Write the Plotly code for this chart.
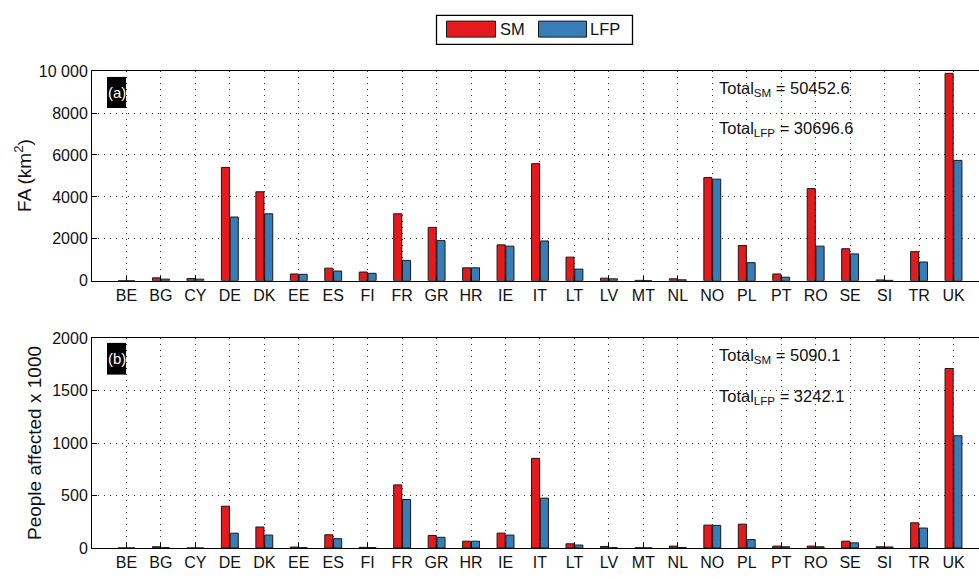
import plotly.graph_objects as go

countries = ["BE", "BG", "CY", "DE", "DK", "EE", "ES", "FI", "FR", "GR", "HR", "IE", "IT",
             "LT", "LV", "MT", "NL", "NO", "PL", "PT", "RO", "SE", "SI", "TR", "UK"]
fa_sm = [0, 139, 108, 5400, 4244, 324, 602, 417, 3194, 2546, 617, 1713, 5586,
         1127, 123, 20, 93, 4923, 1682, 324, 4398, 1528, 40, 1389, 9892]
fa_lfp = [0, 77, 77, 3040, 3194, 309, 463, 355, 972, 1914, 617, 1651, 1898,
          556, 93, 10, 46, 4846, 864, 170, 1651, 1281, 20, 895, 5741]
pop_sm = [0, 12, 0, 398, 200, 9, 126, 6, 601, 120, 65, 142, 854,
          40, 15, 2, 18, 218, 227, 18, 18, 65, 12, 240, 1710]
pop_lfp = [0, 3, 0, 141, 123, 3, 89, 4, 462, 102, 65, 123, 475,
           28, 3, 1, 5, 215, 80, 12, 12, 49, 10, 190, 1069]
fa_ticks = [0, 2000, 4000, 6000, 8000, 10000]
fa_ticktext = ["0", "2000", "4000", "6000", "8000", "10 000"]
pop_ticks = [0, 500, 1000, 1500, 2000]
totals_a = ("Total<sub>SM</sub> = 50452.6", "Total<sub>LFP</sub> = 30696.6")
totals_b = ("Total<sub>SM</sub> = 5090.1", "Total<sub>LFP</sub> = 3242.1")

W, H = 979, 580
RED = "#E41A1C"
BLUE = "#377EB8"
EDGE = "#1a1a1a"
FONT = "Liberation Sans, Arial, Helvetica, sans-serif"
TXT = "#111111"
xi = list(range(len(countries)))


def px(x):
    return x / W


def py(y):
    return 1 - y / H


fig = go.Figure()
for ys, col, xa, ya in [(fa_sm, RED, "x", "y"), (fa_lfp, BLUE, "x", "y"),
                        (pop_sm, RED, "x2", "y2"), (pop_lfp, BLUE, "x2", "y2")]:
    fig.add_trace(go.Bar(x=xi, y=ys, marker=dict(color=col, line=dict(color=EDGE, width=1)),
                         xaxis=xa, yaxis=ya, showlegend=False, hoverinfo="skip"))

xcommon = dict(range=[-1, 24.74], tickmode="array", tickvals=xi, ticktext=countries,
               showgrid=True, gridcolor="#333333", griddash="1px,5px", gridwidth=1,
               showline=True, linecolor="#000000", linewidth=1, mirror=True,
               ticks="inside", ticklen=5, tickcolor="#000000",
               tickfont=dict(family=FONT, size=16, color=TXT), zeroline=False)
ycommon = dict(showgrid=True, gridcolor="#333333", griddash="1px,5px", gridwidth=1,
               showline=True, linecolor="#000000", linewidth=1, mirror=False,
               ticks="inside", ticklen=5, tickcolor="#000000",
               tickfont=dict(family=FONT, size=16, color=TXT), zeroline=False)

fig.update_layout(
    width=W, height=H, margin=dict(l=0, r=0, t=0, b=0),
    plot_bgcolor="white", paper_bgcolor="white",
    barmode="group", bargap=0.49, bargroupgap=0.08,
    xaxis=dict(domain=[px(92), 1], anchor="y", **xcommon),
    yaxis=dict(domain=[py(281), py(65)], anchor="x", range=[0, 10000],
               tickmode="array", tickvals=fa_ticks, ticktext=fa_ticktext, **ycommon),
    xaxis2=dict(domain=[px(92), 1], anchor="y2", **xcommon),
    yaxis2=dict(domain=[py(556.3), py(340)], anchor="x2", range=[0, 2000],
                tickmode="array", tickvals=pop_ticks, **ycommon),
    font=dict(family=FONT, color=TXT),
)

ann = []
# y titles
ann.append(dict(text="FA (km<sup>2</sup>)", x=px(23), y=(py(281) + py(65)) / 2, xref="paper", yref="paper",
                textangle=-90, showarrow=False, font=dict(size=19, family=FONT, color=TXT),
                xanchor="center", yanchor="middle"))
ann.append(dict(text="People affected x 1000", x=px(34), y=(py(556.3) + py(340)) / 2, xref="paper",
                yref="paper", textangle=-90, showarrow=False,
                font=dict(size=19, family=FONT, color=TXT), xanchor="center", yanchor="middle"))
# panel labels
shapes = []
for lab, y0, y1 in [("(a)", 71, 103), ("(b)", 345, 377.7)]:
    shapes.append(dict(type="rect", xref="paper", yref="paper", x0=px(107), x1=px(126),
                       y0=py(y1), y1=py(y0), fillcolor="black", line=dict(width=0)))
    ann.append(dict(text=lab, x=px(116.5), y=py((y0 + y1) / 2), xref="paper", yref="paper",
                    showarrow=False, font=dict(size=15, family=FONT, color="white"),
                    xanchor="center", yanchor="middle"))
# totals
for txt, yy in [(totals_a[0], 83), (totals_a[1], 125), (totals_b[0], 358), (totals_b[1], 401)]:
    ann.append(dict(text=txt, x=px(717), y=py(yy), xref="paper", yref="paper", showarrow=False,
                    font=dict(size=16.5, family=FONT, color=TXT), xanchor="left", yanchor="middle"))

# manual legend
shapes.append(dict(type="rect", xref="paper", yref="paper", x0=px(436.5), x1=px(632.5),
                   y0=py(37.5), y1=py(7.5), fillcolor="white", line=dict(color="black", width=1.3)))
shapes.append(dict(type="rect", xref="paper", yref="paper", x0=px(446.5), x1=px(495.5),
                   y0=py(30), y1=py(13.5), fillcolor=RED, line=dict(color=EDGE, width=1)))
shapes.append(dict(type="rect", xref="paper", yref="paper", x0=px(538.5), x1=px(586.5),
                   y0=py(30), y1=py(13.5), fillcolor=BLUE, line=dict(color=EDGE, width=1)))
ann.append(dict(text="SM", x=px(498), y=py(22), xref="paper", yref="paper", showarrow=False,
                font=dict(size=16.5, family=FONT, color=TXT), xanchor="left", yanchor="middle"))
ann.append(dict(text="LFP", x=px(588), y=py(22), xref="paper", yref="paper", showarrow=False,
                font=dict(size=16.5, family=FONT, color=TXT), xanchor="left", yanchor="middle"))

fig.update_layout(annotations=ann, shapes=shapes)
fig.write_html("out.html")
